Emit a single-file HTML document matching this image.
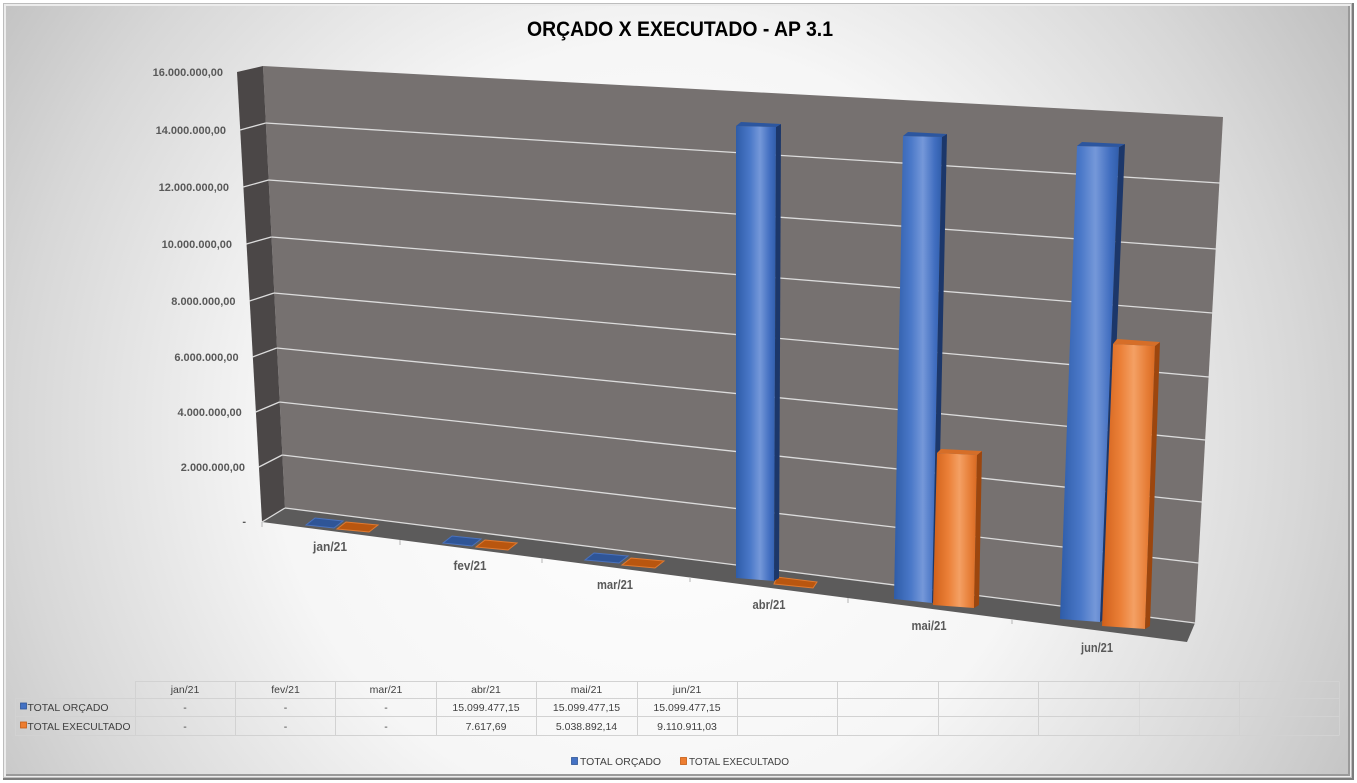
<!DOCTYPE html>
<html>
<head>
<meta charset="utf-8">
<style>
  html,body{margin:0;padding:0;background:#fff;}
  svg{display:block;}
  text{font-family:"Liberation Sans", Arial, sans-serif;}
</style>
</head>
<body>
<svg width="1357" height="783" viewBox="0 0 1357 783" xmlns="http://www.w3.org/2000/svg">
  <defs>
    <radialGradient id="bg" gradientUnits="userSpaceOnUse" cx="660" cy="430" r="860">
      <stop offset="0" stop-color="#ffffff"/>
      <stop offset="0.45" stop-color="#f6f6f6"/>
      <stop offset="0.75" stop-color="#d7d7d7"/>
      <stop offset="1" stop-color="#b8b8b8"/>
    </radialGradient>
    <linearGradient id="gb" x1="0" y1="0" x2="1" y2="0">
      <stop offset="0" stop-color="#2e5ca8"/>
      <stop offset="0.35" stop-color="#4a78c8"/>
      <stop offset="0.6" stop-color="#7598d9"/>
      <stop offset="0.85" stop-color="#416ec0"/>
      <stop offset="1" stop-color="#305dab"/>
    </linearGradient>
    <linearGradient id="go" x1="0" y1="0" x2="1" y2="0">
      <stop offset="0" stop-color="#d0601a"/>
      <stop offset="0.35" stop-color="#eb8038"/>
      <stop offset="0.6" stop-color="#f4a064"/>
      <stop offset="0.85" stop-color="#e67d36"/>
      <stop offset="1" stop-color="#d86a22"/>
    </linearGradient>
  </defs>

  <!-- frame -->
  <rect x="0" y="0" width="1357" height="783" fill="#ffffff"/>
  <rect x="3" y="3" width="1351" height="777" fill="#7c7c7c"/>
  <rect x="3" y="3" width="1349" height="775" fill="#bdbdbd"/>
  <rect x="4" y="4" width="1347" height="773" fill="#ececec"/>
  <rect x="6" y="6" width="1344" height="770" fill="url(#bg)"/>
  <rect x="1348" y="6" width="2" height="770" fill="#9a9a9a"/>
  <rect x="6" y="774" width="1344" height="2" fill="#9a9a9a"/>

  <!-- title -->
  <text x="680" y="36" font-size="21" font-weight="bold" fill="#000" text-anchor="middle" textLength="306" lengthAdjust="spacingAndGlyphs">ORÇADO X EXECUTADO - AP 3.1</text>

  <!-- walls -->
  <polygon points="263,66 1223,117 1195,623 285,508" fill="#767170"/>
  <polygon points="237,72 263,66 285,508 262,522" fill="#4b4747"/>
  <polygon points="262,522 285,508 1195,623 1187,642" fill="#5c5b5b"/>

  <!-- back wall gridlines -->
  <g stroke="#dcdcdc" stroke-width="1.3" fill="none">
    <line x1="285" y1="508" x2="1195" y2="623"/>
    <line x1="282.25" y1="455" x2="1198.5" y2="563"/>
    <line x1="279.5" y1="402" x2="1202" y2="502"/>
    <line x1="276.75" y1="348" x2="1205.5" y2="440"/>
    <line x1="274" y1="293" x2="1209" y2="377"/>
    <line x1="271.25" y1="237" x2="1212.5" y2="313"/>
    <line x1="268.5" y1="180" x2="1216" y2="249"/>
    <line x1="265.75" y1="123" x2="1219.5" y2="183"/>
  </g>
  <!-- side wall gridlines -->
  <g stroke="#dcdcdc" stroke-width="1.3" fill="none">
    <line x1="285" y1="508" x2="262" y2="522"/>
    <line x1="282.25" y1="455" x2="258.9" y2="467"/>
    <line x1="279.5" y1="402" x2="255.75" y2="412"/>
    <line x1="276.75" y1="348" x2="252.6" y2="357"/>
    <line x1="274" y1="293" x2="249.5" y2="301"/>
    <line x1="271.25" y1="237" x2="246.4" y2="244"/>
    <line x1="268.5" y1="180" x2="243.25" y2="187"/>
    <line x1="265.75" y1="123" x2="240.1" y2="130"/>
  </g>

  <!-- floor ticks -->
  <g stroke="#b4b4b4" stroke-width="1">
    <line x1="262" y1="522" x2="262" y2="527"/>
    <line x1="400" y1="540" x2="400" y2="545"/>
    <line x1="542" y1="558" x2="542" y2="563"/>
    <line x1="690" y1="577" x2="690" y2="582"/>
    <line x1="848" y1="598" x2="848" y2="603"/>
    <line x1="1012" y1="619" x2="1012" y2="624"/>
  </g>

  <!-- y-axis labels -->
  <g font-size="11" font-weight="bold" fill="#595959" text-anchor="end">
    <text x="223" y="76">16.000.000,00</text>
    <text x="226" y="134">14.000.000,00</text>
    <text x="229" y="191">12.000.000,00</text>
    <text x="232" y="248">10.000.000,00</text>
    <text x="235.5" y="305">8.000.000,00</text>
    <text x="238.6" y="361">6.000.000,00</text>
    <text x="241.75" y="416">4.000.000,00</text>
    <text x="245" y="471">2.000.000,00</text>
    <text x="246" y="525">-</text>
  </g>

  <!-- flat (zero) bars -->
  <g stroke-width="1">
    <polygon points="306,525 334,528 343,521 315,518" fill="#2f5597" stroke="#4a72bd"/>
    <polygon points="337,529 369,532 378,525 346,522" fill="#b9560f" stroke="#e07a30"/>
    <polygon points="443,543 472,546 481,539 452,536" fill="#2f5597" stroke="#4a72bd"/>
    <polygon points="476,547 508,550 517,543 485,540" fill="#b9560f" stroke="#e07a30"/>
    <polygon points="585,560 619,563 628,556 594,553" fill="#2f5597" stroke="#4a72bd"/>
    <polygon points="622,565 655,568 664,561 631,558" fill="#b9560f" stroke="#e07a30"/>
    <polygon points="774,584 813,588 817,582 777,577" fill="#b9560f" stroke="#e07a30"/>
  </g>

  <!-- abr blue -->
  <polygon points="736,126 776,127 774,581 736,578" fill="url(#gb)"/>
  <polygon points="776,127 781,124 779,578 774,581" fill="#1c376a"/>
  <polygon points="736,126 741,122 781,124 776,127" fill="#2c569f"/>

  <!-- mai blue -->
  <polygon points="903,136 942,137 932,603 894,599" fill="url(#gb)"/>
  <polygon points="942,137 947,134 937,600 932,603" fill="#1c376a"/>
  <polygon points="903,136 908,132 947,134 942,137" fill="#2c569f"/>

  <!-- mai orange -->
  <polygon points="937,453 977,455 974,608 933,605" fill="url(#go)"/>
  <polygon points="977,455 982,451 979,605 974,608" fill="#9c460e"/>
  <polygon points="937,453 941,449 982,451 977,455" fill="#d66e28"/>

  <!-- jun blue -->
  <polygon points="1077,146 1119,147 1100,622 1060,619" fill="url(#gb)"/>
  <polygon points="1119,147 1125,144 1105,619 1100,622" fill="#1c376a"/>
  <polygon points="1077,146 1082,142 1125,144 1119,147" fill="#2c569f"/>

  <!-- jun orange -->
  <polygon points="1113,344 1155,346 1145,629 1102,626" fill="url(#go)"/>
  <polygon points="1155,346 1160,342 1150,626 1145,629" fill="#9c460e"/>
  <polygon points="1113,344 1117,339 1160,342 1155,346" fill="#d66e28"/>

  <!-- category labels -->
  <g font-size="12.5" font-weight="bold" fill="#595959" text-anchor="middle">
    <text x="330" y="551" textLength="34" lengthAdjust="spacingAndGlyphs">jan/21</text>
    <text x="470" y="570" textLength="33" lengthAdjust="spacingAndGlyphs">fev/21</text>
    <text x="615" y="589" textLength="36" lengthAdjust="spacingAndGlyphs">mar/21</text>
    <text x="769" y="609" textLength="33" lengthAdjust="spacingAndGlyphs">abr/21</text>
    <text x="929" y="630" textLength="35" lengthAdjust="spacingAndGlyphs">mai/21</text>
    <text x="1097" y="652" textLength="32" lengthAdjust="spacingAndGlyphs">jun/21</text>
  </g>

  <!-- data table -->
  <g stroke="#d2d2d2" stroke-width="1" fill="none">
    <line x1="135" y1="681.5" x2="1339" y2="681.5"/>
    <line x1="15" y1="698.5" x2="1339" y2="698.5"/>
    <line x1="15" y1="716.5" x2="1339" y2="716.5"/>
    <line x1="15" y1="735.5" x2="1339" y2="735.5"/>
    <line x1="15.5" y1="698.5" x2="15.5" y2="735.5"/>
    <line x1="135.5" y1="681.5" x2="135.5" y2="735.5"/>
    <line x1="235.5" y1="681.5" x2="235.5" y2="735.5"/>
    <line x1="335.5" y1="681.5" x2="335.5" y2="735.5"/>
    <line x1="436.5" y1="681.5" x2="436.5" y2="735.5"/>
    <line x1="536.5" y1="681.5" x2="536.5" y2="735.5"/>
    <line x1="637.5" y1="681.5" x2="637.5" y2="735.5"/>
    <line x1="737.5" y1="681.5" x2="737.5" y2="735.5"/>
    <line x1="837.5" y1="681.5" x2="837.5" y2="735.5"/>
    <line x1="938.5" y1="681.5" x2="938.5" y2="735.5"/>
    <line x1="1038.5" y1="681.5" x2="1038.5" y2="735.5"/>
    <line x1="1139.5" y1="681.5" x2="1139.5" y2="735.5" stroke="#cfcfcf" stroke-opacity="0.4"/>
    <line x1="1239.5" y1="681.5" x2="1239.5" y2="735.5"/>
    <line x1="1339.5" y1="681.5" x2="1339.5" y2="735.5"/>
  </g>
  <g font-size="10.5" fill="#404040" text-anchor="middle">
    <text x="185" y="693">jan/21</text>
    <text x="285.5" y="693">fev/21</text>
    <text x="386" y="693">mar/21</text>
    <text x="486" y="693">abr/21</text>
    <text x="586.5" y="693">mai/21</text>
    <text x="687" y="693">jun/21</text>

    <text x="185" y="711">-</text>
    <text x="285.5" y="711">-</text>
    <text x="386" y="711">-</text>
    <text x="486" y="711">15.099.477,15</text>
    <text x="586.5" y="711">15.099.477,15</text>
    <text x="687" y="711">15.099.477,15</text>

    <text x="185" y="730">-</text>
    <text x="285.5" y="730">-</text>
    <text x="386" y="730">-</text>
    <text x="486" y="730">7.617,69</text>
    <text x="586.5" y="730">5.038.892,14</text>
    <text x="687" y="730">9.110.911,03</text>
  </g>
  <rect x="20.5" y="703" width="6" height="6" fill="#4472c4" stroke="#2f5597" stroke-width="0.8"/>
  <rect x="20.5" y="722" width="6" height="6" fill="#ed7d31" stroke="#c55a11" stroke-width="0.8"/>
  <g font-size="10.5" fill="#404040">
    <text x="27.5" y="711" textLength="81" lengthAdjust="spacingAndGlyphs">TOTAL ORÇADO</text>
    <text x="27.5" y="730" textLength="103" lengthAdjust="spacingAndGlyphs">TOTAL EXECULTADO</text>
  </g>

  <!-- legend -->
  <rect x="571.5" y="757.5" width="6" height="7" fill="#4472c4" stroke="#2f5597" stroke-width="0.8"/>
  <text x="580" y="765" font-size="10.5" fill="#404040" textLength="81" lengthAdjust="spacingAndGlyphs">TOTAL ORÇADO</text>
  <rect x="680.5" y="757.5" width="6" height="7" fill="#ed7d31" stroke="#c55a11" stroke-width="0.8"/>
  <text x="689" y="765" font-size="10.5" fill="#404040" textLength="100" lengthAdjust="spacingAndGlyphs">TOTAL EXECULTADO</text>
</svg>
</body>
</html>
